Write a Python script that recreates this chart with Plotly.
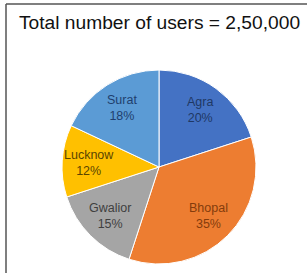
import math
import plotly.graph_objects as go

cities = ["Agra", "Bhopal", "Gwalior", "Lucknow", "Surat"]
shares = [20, 35, 15, 12, 18]
slice_colors = ["#4472C4", "#ED7D31", "#A5A5A5", "#FFC000", "#5B9BD5"]
label_colors = ["#1F3864", "#843C0C", "#404040", "#5A4500", "#1F3F6E"]
title_text = "Total number of users = 2,50,000"

W, H = 307, 273
cx, cy, r = 159, 167, 97

fig = go.Figure(go.Pie(
    labels=cities,
    values=shares,
    sort=False,
    direction="clockwise",
    rotation=0,
    marker=dict(colors=slice_colors, line=dict(color="white", width=1)),
    textinfo="none",
    hoverinfo="label+percent",
    showlegend=False,
    domain=dict(x=[(cx - r) / W, (cx + r) / W], y=[1 - (cy + r) / H, 1 - (cy - r) / H]),
))

# data labels at the middle angle of each slice (derived from shares)
total = sum(shares)
cum = 0
for name, val, col in zip(cities, shares, label_colors):
    mid = (cum + val / 2) / total * 2 * math.pi
    cum += val
    px = cx + 0.72 * r * math.sin(mid)
    py = cy - 0.72 * r * math.cos(mid)
    fig.add_annotation(
        text=f"{name}<br>{val}%", x=px / W, y=1 - py / H,
        xref="paper", yref="paper", xanchor="center", yanchor="middle",
        showarrow=False, align="center",
        font=dict(size=12.5, color=col, family="Liberation Sans"),
    )

fig.add_annotation(
    text=title_text, x=17 / W, y=1 - 22 / H, xref="paper", yref="paper",
    xanchor="left", yanchor="middle", showarrow=False,
    font=dict(size=19.2, color="#111111", family="Liberation Sans"),
)

fig.add_shape(type="line", xref="paper", yref="paper",
              x0=6 / W, x1=6 / W, y0=0, y1=1 - 4 / H,
              line=dict(color="#555555", width=1.5))
fig.add_shape(type="line", xref="paper", yref="paper",
              x0=6 / W, x1=1, y0=1 - 4 / H, y1=1 - 4 / H,
              line=dict(color="#555555", width=1.5))

fig.update_layout(
    width=W, height=H,
    margin=dict(l=0, r=0, t=0, b=0),
    paper_bgcolor="white", plot_bgcolor="white",
)

fig.write_html("out.html", config={"displayModeBar": False},
               post_script="document.body.style.margin='0';")
